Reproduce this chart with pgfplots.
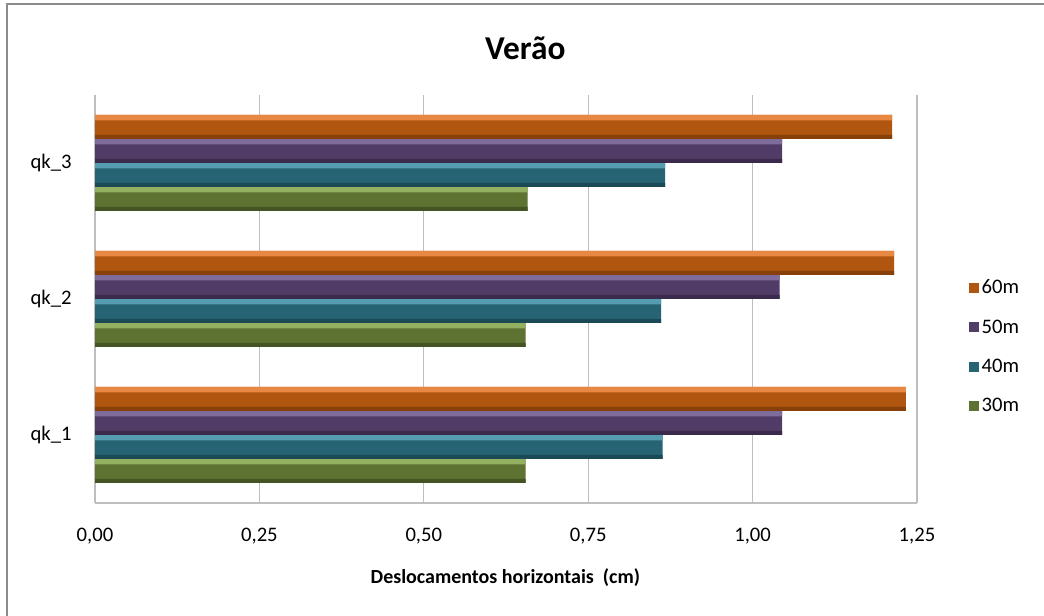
\documentclass[border=0pt]{standalone}
\usepackage{pgfplots}
\pgfplotsset{compat=1.18}
\usepackage{fontspec}
\setmainfont{Carlito}
\definecolor{c60}{RGB}{176,86,16}
\definecolor{c60t}{RGB}{232,136,66}
\definecolor{c60b}{RGB}{136,64,10}
\definecolor{c50}{RGB}{80,60,102}
\definecolor{c50t}{RGB}{128,108,156}
\definecolor{c50b}{RGB}{58,42,76}
\definecolor{c40}{RGB}{38,100,116}
\definecolor{c40t}{RGB}{86,156,176}
\definecolor{c40b}{RGB}{26,74,86}
\definecolor{c30}{RGB}{94,114,50}
\definecolor{c30t}{RGB}{146,176,96}
\definecolor{c30b}{RGB}{68,84,34}
\definecolor{gridc}{RGB}{190,190,190}
\definecolor{framec}{RGB}{140,140,140}
\pgfplotsset{
  hl/.style={forget plot, draw=none, fill=#1, bar width=4pt},
  dk/.style={forget plot, draw=none, fill=#1, bar width=3pt},
}
\begin{document}
\begin{tikzpicture}
\useasboundingbox (0,0) rectangle (783pt,462pt);
\draw[framec, line width=1.5pt] (5.25pt,0) -- (5.25pt,459pt) -- (783pt,459pt);
\node[font=\fontsize{25}{29}\selectfont\bfseries] at (394pt,426pt) {Verão};
\node[font=\fontsize{15}{18}\selectfont\bfseries] at (379pt,28.5pt) {Deslocamentos horizontais\ \ (cm)};
\begin{axis}[
  at={(71.25pt,84.75pt)}, anchor=south west,
  scale only axis, width=616.5pt, height=306pt,
  xbar, bar width=18pt,
  xmin=0, xmax=1.25, ymin=0.5, ymax=3.5,
  xtick={0,0.25,0.5,0.75,1,1.25},
  ytick={1,2,3}, yticklabels={qk\_1,qk\_2,qk\_3},
  xmajorgrids, grid style={gridc, line width=0.8pt},
  axis line style={gridc, line width=0.8pt},
  axis x line*=bottom, axis y line*=left,
  major tick length=0pt,
  tick label style={font=\fontsize{15.5}{18}\selectfont},
  xticklabel style={yshift=-15pt},
  yticklabel style={xshift=-14pt},
  /pgf/number format/.cd, fixed, fixed zerofill, precision=2, use comma, assume math mode=true,
  /pgfplots/.cd,
  legend reversed,
  legend style={at={(1.058,0.383)}, anchor=west, draw=none, fill=none,
    font=\fontsize{15.5}{18}\selectfont, row sep=14pt},
  legend cell align=left,
]
% 30m
\addplot[draw=none, fill=c30, bar shift=-27pt,
  legend image code/.code={\fill[c30] (0pt,-3.75pt) rectangle (7.5pt,3.75pt);}]
  coordinates {(0.655,1) (0.655,2) (0.658,3)};
\addlegendentry{30m}
\addplot[hl=c30t, bar shift=-20pt] coordinates {(0.655,1) (0.655,2) (0.658,3)};
\addplot[dk=c30b, bar shift=-34.5pt] coordinates {(0.655,1) (0.655,2) (0.658,3)};
% 40m
\addplot[draw=none, fill=c40, bar shift=-9pt,
  legend image code/.code={\fill[c40] (0pt,-3.75pt) rectangle (7.5pt,3.75pt);}]
  coordinates {(0.863,1) (0.861,2) (0.867,3)};
\addlegendentry{40m}
\addplot[hl=c40t, bar shift=-2pt] coordinates {(0.863,1) (0.861,2) (0.867,3)};
\addplot[dk=c40b, bar shift=-16.5pt] coordinates {(0.863,1) (0.861,2) (0.867,3)};
% 50m
\addplot[draw=none, fill=c50, bar shift=9pt,
  legend image code/.code={\fill[c50] (0pt,-3.75pt) rectangle (7.5pt,3.75pt);}]
  coordinates {(1.045,1) (1.041,2) (1.045,3)};
\addlegendentry{50m}
\addplot[hl=c50t, bar shift=16pt] coordinates {(1.045,1) (1.041,2) (1.045,3)};
\addplot[dk=c50b, bar shift=1.5pt] coordinates {(1.045,1) (1.041,2) (1.045,3)};
% 60m
\addplot[draw=none, fill=c60, bar shift=27pt,
  legend image code/.code={\fill[c60] (0pt,-3.75pt) rectangle (7.5pt,3.75pt);}]
  coordinates {(1.233,1) (1.215,2) (1.212,3)};
\addlegendentry{60m}
\addplot[hl=c60t, bar shift=34pt] coordinates {(1.233,1) (1.215,2) (1.212,3)};
\addplot[dk=c60b, bar shift=19.5pt] coordinates {(1.233,1) (1.215,2) (1.212,3)};
\end{axis}
\end{tikzpicture}
\end{document}
